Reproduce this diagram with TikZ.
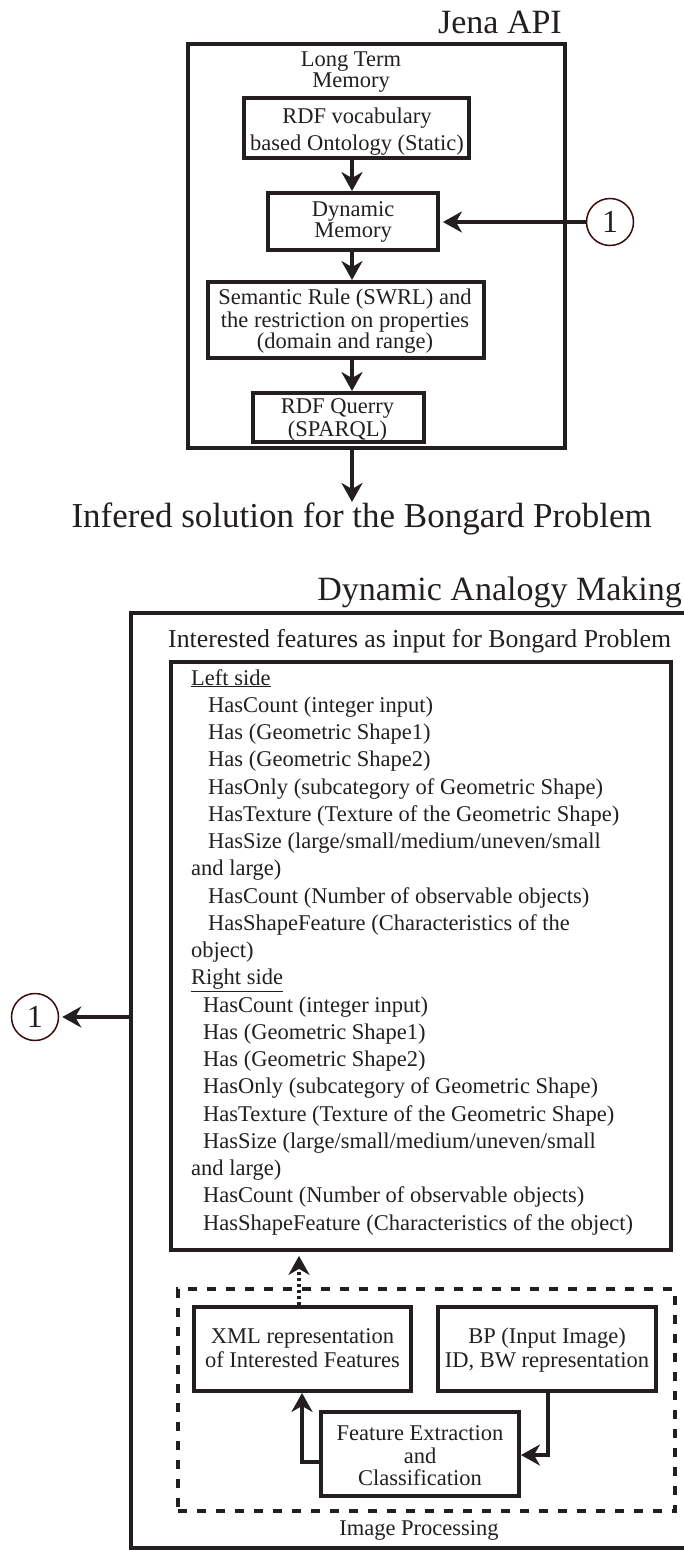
\documentclass[tikz,border=0pt]{standalone}
\usepackage{fontspec}
\setmainfont{Liberation Serif}
\usetikzlibrary{arrows.meta}
\definecolor{ink}{HTML}{231F20}
\definecolor{ring}{HTML}{3A0C0C}
\newcommand\setfs[2]{\fontsize{#1}{#2}\selectfont}
\begin{document}
\begin{tikzpicture}[x=1pt,y=-1pt,
  frame/.style={draw=ink, rectangle, inner sep=0pt, line width=3.9pt},
  ln/.style={anchor=base, inner sep=0pt, text=ink, font=\setfs{22.5}{27}},
  item/.style={anchor=base west, inner sep=0pt, text=ink, font=\setfs{22.5}{27}},
  head/.style={inner sep=0pt, text=ink, font=\setfs{34}{40}},
  arr/.style={draw=ink, line width=4pt, -{Stealth[length=19pt,width=21pt,inset=6pt]}},
  ringnode/.style={circle, draw=ring, line width=1.5pt, minimum size=47pt, inner sep=0pt, text=ink, font=\setfs{32}{36}}]
\useasboundingbox (0,0) rectangle (683,1550);

% ---------------- Jena API block ----------------
\node[head, anchor=base east] (jenat) at (562,33) {Jena API};
\node[frame, line width=4.4pt, minimum width=377pt, minimum height=404pt] (jena) at (376.5,246) {};
\node[ln] (ltm1) at (351,66) {Long Term};
\node[ln] (ltm2) at (351,87) {Memory};

\node[frame, minimum width=225pt, minimum height=60pt] (rdf) at (356.5,128) {};
\node[ln] (rdf1) at (357,123) {RDF vocabulary};
\node[ln] (rdf2) at (357,150) {based Ontology (Static)};

\node[frame, minimum width=170pt, minimum height=57pt] (dyn) at (353,221.5) {};
\node[ln] (dyn1) at (353,216) {Dynamic};
\node[ln] (dyn2) at (353,237) {Memory};

\node[frame, minimum width=276pt, minimum height=76pt] (sem) at (346,320) {};
\node[ln] (sem1) at (345,304) {Semantic Rule (SWRL) and};
\node[ln] (sem2) at (345,327) {the restriction on properties};
\node[ln] (sem3) at (345,348) {(domain and range)};

\node[frame, minimum width=171pt, minimum height=49pt] (qry) at (338.5,417.5) {};
\node[ln] (qry1) at (337.5,413) {RDF Querry};
\node[ln] (qry2) at (337.5,436) {(SPARQL)};

\node[ringnode] (c1top) at (610,222) {1};

\coordinate (ax) at (352,0);
\coordinate (inftip) at (352,502);
\draw[arr] (rdf.south -| ax) -- (dyn.north -| ax);
\draw[arr] (dyn.south -| ax) -- (sem.north -| ax);
\draw[arr] (sem.south -| ax) -- (qry.north -| ax);
\draw[arr] (jena.south -| ax) -- (inftip);
\draw[arr, shorten >=3pt] (c1top.west) -- (c1top.west -| dyn.east);

\node[head, anchor=base east, font=\setfs{35}{40}] (inf) at (652,527) {Infered solution for the Bongard Problem};

% ---------------- Dynamic Analogy Making block ----------------
\node[head, anchor=base east] (damt) at (682,600) {Dynamic Analogy Making};
\node[frame, line width=4pt, minimum width=574pt, minimum height=935pt] (dam) at (418,1080.5) {};
\node[inner sep=0pt, anchor=base west, text=ink, font=\setfs{25.8}{30}] (intt) at (168,647)
  {Interested features as input for Bongard Problem};
\node[frame, line width=3.7pt, minimum width=500pt, minimum height=588pt] (feat) at (421,956) {};

\node[item] (f01) at (191,685)     {\underline{Left side}};
\node[item] (f02) at (208,712.25)  {HasCount (integer input)};
\node[item] (f03) at (208,739.5)   {Has (Geometric Shape1)};
\node[item] (f04) at (208,766.75)  {Has (Geometric Shape2)};
\node[item] (f05) at (208,794)     {HasOnly (subcategory of Geometric Shape)};
\node[item] (f06) at (208,821.25)  {HasTexture (Texture of the Geometric Shape)};
\node[item] (f07) at (208,848.5)   {HasSize (large/small/medium/uneven/small};
\node[item] (f08) at (191,875.75)  {and large)};
\node[item] (f09) at (208,903)     {HasCount (Number of observable objects)};
\node[item] (f10) at (208,930.25)  {HasShapeFeature (Characteristics of the};
\node[item] (f11) at (191,957.5)   {object)};
\node[item] (f12) at (191,984.75)  {\underline{Right side}};
\node[item] (f13) at (203,1012)    {HasCount (integer input)};
\node[item] (f14) at (203,1039.25) {Has (Geometric Shape1)};
\node[item] (f15) at (203,1066.5)  {Has (Geometric Shape2)};
\node[item] (f16) at (203,1093.75) {HasOnly (subcategory of Geometric Shape)};
\node[item] (f17) at (203,1121)    {HasTexture (Texture of the Geometric Shape)};
\node[item] (f18) at (203,1148.25) {HasSize (large/small/medium/uneven/small};
\node[item] (f19) at (191,1175.5)  {and large)};
\node[item] (f20) at (203,1202.75) {HasCount (Number of observable objects)};
\node[item] (f21) at (203,1230)    {HasShapeFeature (Characteristics of the object)};

\node[ringnode] (c1bot) at (35,1017) {1};
\draw[arr, shorten >=3pt] (c1bot.east -| dam.west) -- (c1bot.east);

% ---------------- Image processing ----------------
\node[draw=ink, rectangle, inner sep=0pt, line width=3.8pt, dash pattern=on 9pt off 10pt,
      minimum width=497pt, minimum height=222pt] (ip) at (426.5,1400) {};
\node[ln] (ipt) at (419,1535) {Image Processing};

\node[frame, minimum width=217pt, minimum height=84pt] (xml) at (302.5,1349) {};
\node[ln] (xml1) at (302.5,1343) {XML representation};
\node[ln] (xml2) at (302.5,1367) {of Interested Features};

\node[frame, minimum width=218pt, minimum height=84pt] (bp) at (547,1349) {};
\node[ln] (bp1) at (547,1343) {BP (Input Image)};
\node[ln] (bp2) at (547,1367) {ID, BW representation};

\node[frame, minimum width=198pt, minimum height=84pt] (fex) at (420,1454) {};
\node[ln] (fex1) at (420,1440) {Feature Extraction};
\node[ln] (fex2) at (420,1463) {and};
\node[ln] (fex3) at (420,1485) {Classification};

\coordinate (dx) at (299,0);
\coordinate (la) at (302,1462);
\coordinate (ra) at (548,1455);
\draw[arr, dash pattern=on 3pt off 3pt, shorten >=4pt] (xml.north -| dx) -- (feat.south -| dx);
\draw[arr] (fex.west |- la) -- (la) -- (la |- xml.south);
\draw[arr] (ra |- bp.south) -- (ra) -- (ra -| fex.east);
\end{tikzpicture}
\end{document}
